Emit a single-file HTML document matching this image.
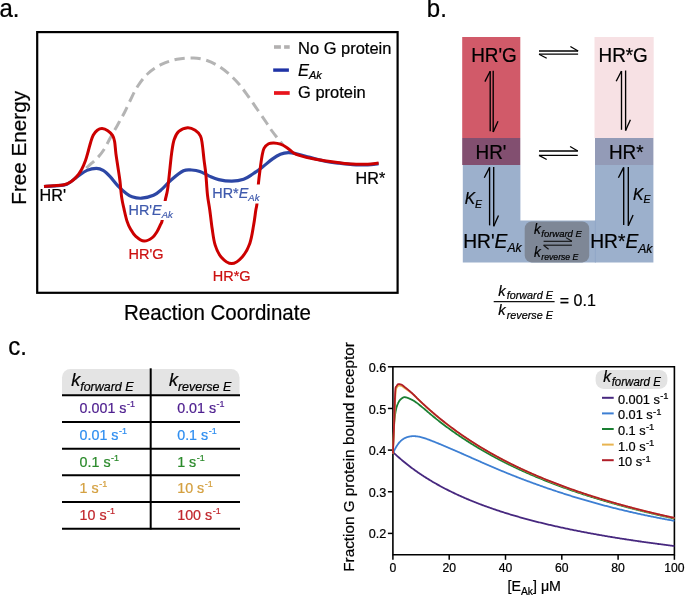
<!DOCTYPE html>
<html><head><meta charset="utf-8"><style>
html,body{margin:0;padding:0;background:#fff;}
svg{display:block;will-change:transform;}
text{font-family:"Liberation Sans", sans-serif;}
</style></head><body>
<svg width="685" height="596" viewBox="0 0 685 596" font-family='"Liberation Sans", sans-serif'>
<rect width="685" height="596" fill="#fff"/>
<text id="t0" x="-0.6" y="17.3" font-size="24" stroke="#000" stroke-width="0.22" transform="matrix(1 0 0 1.045 0 -0.778)">a.</text>
<rect x="37.2" y="32.1" width="360.4" height="260.7" fill="none" stroke="#000" stroke-width="2.2"/>
<text id="t1" transform="translate(25.5,147.8) rotate(-90)" text-anchor="middle" font-size="20.7" stroke="#000" stroke-width="0.22">Free Energy</text>
<text id="t2" x="217.4" y="319.9" text-anchor="middle" font-size="20.5" stroke="#000" stroke-width="0.22" transform="matrix(1 0 0 1.045 0 -14.395)">Reaction Coordinate</text>
<path d="M72.00,182.00 C73.23,180.80 76.73,177.38 79.40,174.80 C82.07,172.22 84.98,169.33 88.00,166.50 C91.02,163.67 94.83,160.63 97.50,157.80 C100.17,154.97 101.90,152.77 104.00,149.50 C106.10,146.23 108.27,141.53 110.10,138.20 C111.93,134.87 113.48,132.18 115.00,129.50 C116.52,126.82 117.62,124.93 119.20,122.10 C120.78,119.27 122.67,116.10 124.50,112.50 C126.33,108.90 128.03,104.83 130.20,100.50 C132.37,96.17 134.53,91.00 137.50,86.50 C140.47,82.00 143.92,77.22 148.00,73.50 C152.08,69.78 157.17,66.57 162.00,64.20 C166.83,61.83 171.73,60.33 177.00,59.30 C182.27,58.27 188.60,57.80 193.60,58.00 C198.60,58.20 202.92,59.18 207.00,60.50 C211.08,61.82 214.43,63.65 218.10,65.90 C221.77,68.15 225.50,70.93 229.00,74.00 C232.50,77.07 235.93,80.63 239.10,84.30 C242.27,87.97 244.90,91.72 248.00,96.00 C251.10,100.28 254.70,105.67 257.70,110.00 C260.70,114.33 263.62,118.50 266.00,122.00 C268.38,125.50 270.03,128.25 272.00,131.00 C273.97,133.75 275.97,136.17 277.80,138.50 C279.63,140.83 282.13,143.92 283.00,145.00" fill="none" stroke="#b4b4b4" stroke-width="3" stroke-dasharray="10.3 5.7" stroke-dashoffset="-4"/>
<path d="M44.00,186.50 C45.83,186.38 51.18,186.18 55.00,185.80 C58.82,185.42 63.13,185.77 66.90,184.20 C70.67,182.63 74.25,178.70 77.60,176.40 C80.95,174.10 83.87,171.73 87.00,170.40 C90.13,169.07 93.72,168.40 96.40,168.40 C99.08,168.40 100.85,169.07 103.10,170.40 C105.35,171.73 107.43,173.83 109.90,176.40 C112.37,178.97 115.22,183.00 117.90,185.80 C120.58,188.60 123.65,191.37 126.00,193.20 C128.35,195.03 129.38,195.97 132.00,196.80 C134.62,197.63 138.12,198.45 141.70,198.20 C145.28,197.95 150.17,196.77 153.50,195.30 C156.83,193.83 158.77,191.95 161.70,189.40 C164.63,186.85 167.47,183.10 171.10,180.00 C174.73,176.90 180.07,172.47 183.50,170.80 C186.93,169.13 188.97,169.90 191.70,170.00 C194.43,170.10 196.97,170.38 199.90,171.40 C202.83,172.42 206.17,174.73 209.30,176.10 C212.43,177.47 214.95,178.75 218.70,179.60 C222.45,180.45 227.65,181.25 231.80,181.20 C235.95,181.15 240.10,180.50 243.60,179.30 C247.10,178.10 249.73,175.98 252.80,174.00 C255.87,172.02 258.70,169.92 262.00,167.40 C265.30,164.88 269.53,161.08 272.60,158.90 C275.67,156.72 277.78,155.35 280.40,154.30 C283.02,153.25 285.67,152.70 288.30,152.60 C290.93,152.50 292.58,152.90 296.20,153.70 C299.82,154.50 304.98,156.10 310.00,157.40 C315.02,158.70 321.40,160.53 326.30,161.50 C331.20,162.47 335.02,162.68 339.40,163.20 C343.78,163.72 348.65,164.33 352.60,164.60 C356.55,164.87 360.03,164.80 363.10,164.80 C366.17,164.80 368.42,164.80 371.00,164.60 C373.58,164.40 377.33,163.77 378.60,163.60" fill="none" stroke="#2d47a5" stroke-width="3.2" stroke-linecap="butt"/>
<path d="M44.00,186.50 C45.57,186.38 50.03,186.10 53.40,185.80 C56.77,185.50 61.28,185.37 64.20,184.70 C67.12,184.03 68.88,183.07 70.90,181.80 C72.92,180.53 74.52,179.17 76.30,177.10 C78.08,175.03 80.07,172.17 81.60,169.40 C83.13,166.63 84.38,163.57 85.50,160.50 C86.62,157.43 87.45,154.00 88.30,151.00 C89.15,148.00 89.78,145.13 90.60,142.50 C91.42,139.87 92.08,137.23 93.20,135.20 C94.32,133.17 95.82,131.40 97.30,130.30 C98.78,129.20 100.35,128.53 102.10,128.60 C103.85,128.67 106.07,129.57 107.80,130.70 C109.53,131.83 111.37,133.60 112.50,135.40 C113.63,137.20 114.03,138.47 114.60,141.50 C115.17,144.53 115.35,149.35 115.90,153.60 C116.45,157.85 117.23,162.52 117.90,167.00 C118.57,171.48 119.27,175.40 119.90,180.50 C120.53,185.60 121.00,192.78 121.70,197.60 C122.40,202.42 123.22,205.48 124.10,209.40 C124.98,213.32 125.92,217.78 127.00,221.10 C128.08,224.42 129.13,226.75 130.60,229.30 C132.07,231.85 133.55,234.43 135.80,236.40 C138.05,238.37 141.35,240.90 144.10,241.10 C146.85,241.30 150.15,239.17 152.30,237.60 C154.45,236.03 155.63,233.87 157.00,231.70 C158.37,229.53 159.62,226.57 160.50,224.60 C161.38,222.63 161.52,223.90 162.30,219.90 C163.08,215.90 164.32,205.68 165.20,200.60 C166.08,195.52 166.80,194.85 167.60,189.40 C168.40,183.95 169.32,174.03 170.00,167.90 C170.68,161.77 171.02,157.30 171.70,152.60 C172.38,147.90 172.92,143.23 174.10,139.70 C175.28,136.17 176.55,133.40 178.80,131.40 C181.05,129.40 184.87,127.88 187.60,127.70 C190.33,127.52 193.05,128.90 195.20,130.30 C197.35,131.70 199.32,133.75 200.50,136.10 C201.68,138.45 201.72,140.48 202.30,144.40 C202.88,148.32 203.42,154.72 204.00,159.60 C204.58,164.48 205.22,167.78 205.80,173.70 C206.38,179.62 206.83,189.02 207.50,195.10 C208.17,201.18 209.03,204.67 209.80,210.20 C210.57,215.73 211.22,222.52 212.10,228.30 C212.98,234.08 213.60,240.13 215.10,244.90 C216.60,249.67 218.33,253.78 221.10,256.90 C223.87,260.02 228.18,263.60 231.70,263.60 C235.22,263.60 239.18,260.27 242.20,256.90 C245.22,253.53 247.90,248.67 249.80,243.40 C251.70,238.13 252.60,230.83 253.60,225.30 C254.60,219.77 255.23,213.85 255.80,210.20 C256.37,206.55 256.57,207.78 257.00,203.40 C257.43,199.02 257.88,189.57 258.40,183.90 C258.92,178.23 259.50,174.00 260.10,169.40 C260.70,164.80 261.35,159.80 262.00,156.30 C262.65,152.80 262.90,150.48 264.00,148.40 C265.10,146.32 266.95,144.72 268.60,143.80 C270.25,142.88 271.93,142.83 273.90,142.90 C275.87,142.97 278.22,143.40 280.40,144.20 C282.58,145.00 284.80,146.23 287.00,147.70 C289.20,149.17 291.42,151.68 293.60,153.00 C295.78,154.32 296.85,154.63 300.10,155.60 C303.35,156.57 308.73,157.90 313.10,158.80 C317.47,159.70 321.92,160.35 326.30,161.00 C330.68,161.65 335.02,162.18 339.40,162.70 C343.78,163.22 348.65,163.83 352.60,164.10 C356.55,164.37 360.03,164.30 363.10,164.30 C366.17,164.30 368.42,164.30 371.00,164.10 C373.58,163.90 377.33,163.27 378.60,163.10" fill="none" stroke="#cc0000" stroke-width="3" stroke-linecap="butt"/>
<line x1="274" y1="47" x2="280.9" y2="47" stroke="#b2b0b0" stroke-width="3.6"/>
<line x1="284.1" y1="47" x2="289.7" y2="47" stroke="#b2b0b0" stroke-width="3.6"/>
<line x1="273.2" y1="70.1" x2="288.9" y2="70.1" stroke="#1f33a6" stroke-width="3.4"/>
<line x1="274" y1="93" x2="289.7" y2="93" stroke="#e8141c" stroke-width="3.7"/>
<text id="t3" x="298" y="53.6" font-size="16.5" stroke="#000" stroke-width="0.22" transform="matrix(1 0 0 1.045 0 -2.412)">No G protein</text>
<text id="t4" x="298" y="75.9" font-size="16.5" font-style="italic" stroke="#000" stroke-width="0.22" transform="matrix(1 0 0 1.045 0 -3.415)">E<tspan font-size="11" dy="3.2">Ak</tspan></text>
<text id="t5" x="298" y="98.3" font-size="16.5" stroke="#000" stroke-width="0.22" transform="matrix(1 0 0 1.045 0 -4.423)">G protein</text>
<text id="t6" x="39.6" y="201.5" font-size="16.2" stroke="#000" stroke-width="0.22" transform="matrix(1 0 0 1.045 0 -9.067)">HR'</text>
<text id="t7" x="355.6" y="183.6" font-size="16.2" stroke="#000" stroke-width="0.22" transform="matrix(1 0 0 1.045 0 -8.262)">HR*</text>
<rect x="128" y="201" width="45" height="19" fill="#fff"/>
<text id="t8" x="128.5" y="214.6" font-size="14.4" fill="#3f5aad" stroke="#3f5aad" stroke-width="0.22" transform="matrix(1 0 0 1.045 0 -9.657)">HR'<tspan font-style="italic">E<tspan font-size="9.5" dy="3">Ak</tspan></tspan></text>
<text id="t9" x="128.5" y="259.3" font-size="14.5" fill="#cc1111" stroke="#cc1111" stroke-width="0.22" transform="matrix(1 0 0 1.045 0 -11.668)">HR'G</text>
<rect x="212" y="184.5" width="48" height="19" fill="#fff"/>
<text id="t10" x="212.3" y="197.8" font-size="14.4" fill="#3f5aad" stroke="#3f5aad" stroke-width="0.22" transform="matrix(1 0 0 1.045 0 -8.901)">HR*<tspan font-style="italic">E<tspan font-size="9.5" dy="3">Ak</tspan></tspan></text>
<text id="t11" x="212.8" y="281.5" font-size="14.5" fill="#cc1111" stroke="#cc1111" stroke-width="0.22" transform="matrix(1 0 0 1.045 0 -12.667)">HR*G</text>
<text id="t12" x="426.8" y="17.4" font-size="24" stroke="#000" stroke-width="0.22" transform="matrix(1 0 0 1.045 0 -0.783)">b.</text>
<rect x="462.2" y="37" width="58.1" height="101" fill="#d15a69"/>
<rect x="462.2" y="138" width="58.1" height="27" fill="#824f70"/>
<path d="M462.8,165 H520.4 V220.4 H595 V165 H653.4 V262.6 H462.8 Z" fill="#9cb0cc"/>
<rect x="594.5" y="37" width="59.2" height="101" fill="#f7e1e4"/>
<rect x="595" y="138" width="58.4" height="27" fill="#939bb7"/>
<line x1="595.4" y1="220.4" x2="595.4" y2="262.6" stroke="#8ea5c6" stroke-width="0.8"/>
<rect x="524.7" y="221.5" width="64.5" height="40.9" rx="7" fill="#7e8796"/>
<text id="t13" x="471.2" y="61.8" font-size="18.9" stroke="#000" stroke-width="0.22" transform="matrix(1 0 0 1.045 0 -2.781)">HR'G</text>
<text id="t14" x="598.5" y="61.8" font-size="18.9" stroke="#000" stroke-width="0.22" transform="matrix(1 0 0 1.045 0 -2.781)">HR*G</text>
<text id="t15" x="475.5" y="159.1" font-size="18.9" stroke="#000" stroke-width="0.22" transform="matrix(1 0 0 1.045 0 -7.159)">HR'</text>
<text id="t16" x="608.9" y="159.1" font-size="18.9" stroke="#000" stroke-width="0.22" transform="matrix(1 0 0 1.045 0 -7.159)">HR*</text>
<text id="t17" x="463.2" y="248.3" font-size="19.2" stroke="#000" stroke-width="0.22" transform="matrix(1 0 0 1.045 0 -11.173)">HR'<tspan font-style="italic">E<tspan font-size="12.2" dy="4">Ak</tspan></tspan></text>
<text id="t18" x="590.2" y="248.5" font-size="19.2" stroke="#000" stroke-width="0.22" transform="matrix(1 0 0 1.045 0 -11.182)">HR*<tspan font-style="italic">E<tspan font-size="12.2" dy="4">Ak</tspan></tspan></text>
<text id="t19" x="464.7" y="203.6" font-size="15.6" font-style="italic" stroke="#000" stroke-width="0.22" transform="matrix(1 0 0 1.045 0 -9.162)">K<tspan font-size="10.5" dy="4">E</tspan></text>
<text id="t20" x="633.1" y="199.8" font-size="15.6" font-style="italic" stroke="#000" stroke-width="0.22" transform="matrix(1 0 0 1.045 0 -8.991)">K<tspan font-size="10.5" dy="3.3">E</tspan></text>
<text id="t21" x="533.9" y="233.7" font-size="13.5" font-style="italic" stroke="#000" stroke-width="0.22" transform="matrix(1 0 0 1.045 0 -10.516)">k<tspan font-size="9.5" dx="0.6" dy="3">forward E</tspan></text>
<text id="t22" x="533.9" y="257.0" font-size="13.5" font-style="italic" stroke="#000" stroke-width="0.22" transform="matrix(1 0 0 1.045 0 -11.565)">k<tspan font-size="8.7" dx="0.6" dy="2.6">reverse E</tspan></text>
<g stroke="#000" stroke-width="1.3" fill="none" stroke-linecap="butt"><line x1="539" y1="51" x2="578.1" y2="51"/><line x1="570.4" y1="46.5" x2="578.1" y2="51"/><line x1="539" y1="54.2" x2="578.1" y2="54.2"/><line x1="539" y1="54.2" x2="546.7" y2="58.300000000000004"/></g>
<g stroke="#000" stroke-width="1.3" fill="none" stroke-linecap="butt"><line x1="539" y1="151" x2="577.8" y2="151"/><line x1="570.0999999999999" y1="146.5" x2="577.8" y2="151"/><line x1="539" y1="155.4" x2="577.8" y2="155.4"/><line x1="539" y1="155.4" x2="546.7" y2="159.5"/></g>
<g stroke="#000" stroke-width="1.35" fill="none"><line x1="490.2" y1="71.3" x2="490.2" y2="131.2"/><line x1="484.9" y1="81.6" x2="490.2" y2="71.3"/><line x1="493.2" y1="70.8" x2="493.2" y2="132.0"/><line x1="498.0" y1="121.2" x2="493.2" y2="132.0"/></g>
<g stroke="#000" stroke-width="1.35" fill="none"><line x1="489.6" y1="167.4" x2="489.6" y2="225.4"/><line x1="484.3" y1="177.70000000000002" x2="489.6" y2="167.4"/><line x1="493.7" y1="166.9" x2="493.7" y2="226.20000000000002"/><line x1="498.5" y1="215.4" x2="493.7" y2="226.20000000000002"/></g>
<g stroke="#000" stroke-width="1.35" fill="none"><line x1="621.5" y1="71" x2="621.5" y2="129.8"/><line x1="616.2" y1="81.3" x2="621.5" y2="71"/><line x1="625.6" y1="70.5" x2="625.6" y2="130.60000000000002"/><line x1="630.4" y1="119.80000000000003" x2="625.6" y2="130.60000000000002"/></g>
<g stroke="#000" stroke-width="1.35" fill="none"><line x1="623.7" y1="167.4" x2="623.7" y2="225.0"/><line x1="618.4000000000001" y1="177.70000000000002" x2="623.7" y2="167.4"/><line x1="628.3" y1="166.9" x2="628.3" y2="225.8"/><line x1="633.0999999999999" y1="215.0" x2="628.3" y2="225.8"/></g>
<g stroke="#111" stroke-width="1.1" fill="none"><line x1="543.6" y1="241.3" x2="571.9" y2="241.3"/><line x1="566" y1="237.6" x2="571.9" y2="241.3"/><line x1="543.6" y1="245.2" x2="571.9" y2="245.2"/><line x1="543.6" y1="245.2" x2="548.6" y2="249.2"/></g>
<text id="t23" x="498.2" y="295.6" font-size="14.7" font-style="italic" stroke="#000" stroke-width="0.22" transform="matrix(1 0 0 1.045 0 -13.302)">k<tspan font-size="10.8" dx="1.2" dy="3.1">forward E</tspan></text>
<line x1="493.7" y1="301.6" x2="554.6" y2="301.6" stroke="#111" stroke-width="1.2"/>
<text id="t24" x="498.2" y="315.2" font-size="14.7" font-style="italic" stroke="#000" stroke-width="0.22" transform="matrix(1 0 0 1.045 0 -14.184)">k<tspan font-size="10.8" dx="1.2" dy="3.3">reverse E</tspan></text>
<text id="t25" x="559.8" y="306.3" font-size="16" stroke="#000" stroke-width="0.22" transform="matrix(1 0 0 1.045 0 -13.783)">= 0.1</text>
<text id="t26" x="8.2" y="355.5" font-size="24" stroke="#000" stroke-width="0.22" transform="matrix(1 0 0 1.045 0 -15.997)">c.</text>
<path d="M62,395 V377.4 A8.5,8.5 0 0 1 70.5,368.9 H231 A8.5,8.5 0 0 1 239.5,377.4 V395 Z" fill="#e4e4e4"/>
<line x1="62" y1="395.2" x2="240" y2="395.2" stroke="#000" stroke-width="2"/>
<line x1="62" y1="421.9" x2="240" y2="421.9" stroke="#000" stroke-width="2"/>
<line x1="62" y1="448.8" x2="240" y2="448.8" stroke="#000" stroke-width="2"/>
<line x1="62" y1="475.2" x2="240" y2="475.2" stroke="#000" stroke-width="2"/>
<line x1="62" y1="502.1" x2="240" y2="502.1" stroke="#000" stroke-width="2"/>
<line x1="62" y1="528.7" x2="240" y2="528.7" stroke="#000" stroke-width="2"/>
<line x1="150.7" y1="368.3" x2="150.7" y2="529.5" stroke="#000" stroke-width="2"/>
<text id="t27" x="71.2" y="386.2" font-size="18" font-style="italic" stroke="#000" stroke-width="0.22" transform="matrix(1 0 0 1.045 0 -17.379)">k<tspan font-size="12.5" dy="4.2">forward E</tspan></text>
<text id="t28" x="168.9" y="386.2" font-size="18" font-style="italic" stroke="#000" stroke-width="0.22" transform="matrix(1 0 0 1.045 0 -17.379)">k<tspan font-size="12.5" dy="4.2">reverse E</tspan></text>
<text id="t29" x="79.6" y="412.9" font-size="14.3" fill="#4e1f8f" stroke="#4e1f8f" stroke-width="0.22" transform="matrix(1 0 0 1.045 0 -18.580)">0.001 s<tspan font-size="9" dx="0.5" dy="-5.6">-1</tspan></text>
<text id="t30" x="177.2" y="412.9" font-size="14.3" fill="#4e1f8f" stroke="#4e1f8f" stroke-width="0.22" transform="matrix(1 0 0 1.045 0 -18.580)">0.01 s<tspan font-size="9" dx="0.5" dy="-5.6">-1</tspan></text>
<text id="t31" x="79.6" y="439.79999999999995" font-size="14.3" fill="#2f8ef0" stroke="#2f8ef0" stroke-width="0.22" transform="matrix(1 0 0 1.045 0 -19.791)">0.01 s<tspan font-size="9" dx="0.5" dy="-5.6">-1</tspan></text>
<text id="t32" x="177.2" y="439.79999999999995" font-size="14.3" fill="#2f8ef0" stroke="#2f8ef0" stroke-width="0.22" transform="matrix(1 0 0 1.045 0 -19.791)">0.1 s<tspan font-size="9" dx="0.5" dy="-5.6">-1</tspan></text>
<text id="t33" x="79.6" y="466.7" font-size="14.3" fill="#2b8a2b" stroke="#2b8a2b" stroke-width="0.22" transform="matrix(1 0 0 1.045 0 -21.001)">0.1 s<tspan font-size="9" dx="0.5" dy="-5.6">-1</tspan></text>
<text id="t34" x="177.2" y="466.7" font-size="14.3" fill="#2b8a2b" stroke="#2b8a2b" stroke-width="0.22" transform="matrix(1 0 0 1.045 0 -21.001)">1 s<tspan font-size="9" dx="0.5" dy="-5.6">-1</tspan></text>
<text id="t35" x="79.6" y="493.29999999999995" font-size="14.3" fill="#d4a040" stroke="#d4a040" stroke-width="0.22" transform="matrix(1 0 0 1.045 0 -22.198)">1 s<tspan font-size="9" dx="0.5" dy="-5.6">-1</tspan></text>
<text id="t36" x="177.2" y="493.29999999999995" font-size="14.3" fill="#d4a040" stroke="#d4a040" stroke-width="0.22" transform="matrix(1 0 0 1.045 0 -22.198)">10 s<tspan font-size="9" dx="0.5" dy="-5.6">-1</tspan></text>
<text id="t37" x="79.6" y="519.9" font-size="14.3" fill="#c1272d" stroke="#c1272d" stroke-width="0.22" transform="matrix(1 0 0 1.045 0 -23.395)">10 s<tspan font-size="9" dx="0.5" dy="-5.6">-1</tspan></text>
<text id="t38" x="177.2" y="519.9" font-size="14.3" fill="#c1272d" stroke="#c1272d" stroke-width="0.22" transform="matrix(1 0 0 1.045 0 -23.395)">100 s<tspan font-size="9" dx="0.5" dy="-5.6">-1</tspan></text>
<path d="M392.9,366.8 H674.4 V554.8 H392.9 Z" fill="none" stroke="#000" stroke-width="1.6"/>
<line x1="387.9" y1="366.80" x2="392.9" y2="366.80" stroke="#000" stroke-width="1.5"/>
<text id="t39" x="386.29999999999995" y="371.90" font-size="12.6" text-anchor="end" stroke="#000" stroke-width="0.22" transform="matrix(1 0 0 1.045 0 -16.735)">0.6</text>
<line x1="387.9" y1="408.45" x2="392.9" y2="408.45" stroke="#000" stroke-width="1.5"/>
<text id="t40" x="386.29999999999995" y="413.55" font-size="12.6" text-anchor="end" stroke="#000" stroke-width="0.22" transform="matrix(1 0 0 1.045 0 -18.610)">0.5</text>
<line x1="387.9" y1="450.10" x2="392.9" y2="450.10" stroke="#000" stroke-width="1.5"/>
<text id="t41" x="386.29999999999995" y="455.20" font-size="12.6" text-anchor="end" stroke="#000" stroke-width="0.22" transform="matrix(1 0 0 1.045 0 -20.484)">0.4</text>
<line x1="387.9" y1="491.75" x2="392.9" y2="491.75" stroke="#000" stroke-width="1.5"/>
<text id="t42" x="386.29999999999995" y="496.85" font-size="12.6" text-anchor="end" stroke="#000" stroke-width="0.22" transform="matrix(1 0 0 1.045 0 -22.358)">0.3</text>
<line x1="387.9" y1="533.40" x2="392.9" y2="533.40" stroke="#000" stroke-width="1.5"/>
<text id="t43" x="386.29999999999995" y="538.50" font-size="12.6" text-anchor="end" stroke="#000" stroke-width="0.22" transform="matrix(1 0 0 1.045 0 -24.232)">0.2</text>
<line x1="392.90" y1="554.8" x2="392.90" y2="559.8" stroke="#000" stroke-width="1.5"/>
<text id="t44" x="392.90" y="572.5" font-size="12.2" text-anchor="middle" stroke="#000" stroke-width="0.22" transform="matrix(1 0 0 1.045 0 -25.762)">0</text>
<line x1="449.20" y1="554.8" x2="449.20" y2="559.8" stroke="#000" stroke-width="1.5"/>
<text id="t45" x="449.20" y="572.5" font-size="12.2" text-anchor="middle" stroke="#000" stroke-width="0.22" transform="matrix(1 0 0 1.045 0 -25.762)">20</text>
<line x1="505.50" y1="554.8" x2="505.50" y2="559.8" stroke="#000" stroke-width="1.5"/>
<text id="t46" x="505.50" y="572.5" font-size="12.2" text-anchor="middle" stroke="#000" stroke-width="0.22" transform="matrix(1 0 0 1.045 0 -25.762)">40</text>
<line x1="561.80" y1="554.8" x2="561.80" y2="559.8" stroke="#000" stroke-width="1.5"/>
<text id="t47" x="561.80" y="572.5" font-size="12.2" text-anchor="middle" stroke="#000" stroke-width="0.22" transform="matrix(1 0 0 1.045 0 -25.762)">60</text>
<line x1="618.10" y1="554.8" x2="618.10" y2="559.8" stroke="#000" stroke-width="1.5"/>
<text id="t48" x="618.10" y="572.5" font-size="12.2" text-anchor="middle" stroke="#000" stroke-width="0.22" transform="matrix(1 0 0 1.045 0 -25.762)">80</text>
<line x1="674.40" y1="554.8" x2="674.40" y2="559.8" stroke="#000" stroke-width="1.5"/>
<text id="t49" x="674.40" y="572.5" font-size="12.2" text-anchor="middle" stroke="#000" stroke-width="0.22" transform="matrix(1 0 0 1.045 0 -25.762)">100</text>
<text id="t50" x="507.6" y="591.3" font-size="14.2" stroke="#000" stroke-width="0.22" transform="matrix(1 0 0 1.045 0 -26.608)">[E<tspan font-size="10.3" dy="3.6">Ak</tspan><tspan dy="-3.6">] μM</tspan></text>
<text id="t51" transform="translate(354,457) rotate(-90)" text-anchor="middle" font-size="15.3" stroke="#000" stroke-width="0.22">Fraction G protein bound receptor</text>
<path d="M392.90,452.06 L393.84,452.95 L394.78,453.83 L395.72,454.69 L396.67,455.55 L397.61,456.39 L398.55,457.23 L399.49,458.05 L400.43,458.87 L401.37,459.67 L402.31,460.47 L403.26,461.25 L404.20,462.03 L405.14,462.79 L406.08,463.55 L407.02,464.30 L407.96,465.04 L408.91,465.77 L409.85,466.49 L410.79,467.20 L411.73,467.91 L412.67,468.61 L413.61,469.30 L414.55,469.98 L415.50,470.66 L416.44,471.32 L417.38,471.98 L418.32,472.64 L419.26,473.28 L420.20,473.92 L421.14,474.55 L422.09,475.18 L423.03,475.80 L423.97,476.41 L424.91,477.02 L425.85,477.62 L426.79,478.21 L427.73,478.80 L428.68,479.38 L429.62,479.95 L430.56,480.52 L431.50,481.09 L432.44,481.65 L433.38,482.20 L434.32,482.75 L435.27,483.29 L436.21,483.83 L437.15,484.36 L438.09,484.89 L439.03,485.41 L439.97,485.93 L440.92,486.44 L441.86,486.94 L442.80,487.45 L443.74,487.95 L444.68,488.44 L445.62,488.93 L446.56,489.41 L447.51,489.89 L448.45,490.37 L449.39,490.84 L450.33,491.30 L451.27,491.77 L452.21,492.23 L453.15,492.68 L454.10,493.13 L455.04,493.58 L455.98,494.02 L456.92,494.46 L457.86,494.90 L458.80,495.33 L459.74,495.76 L460.69,496.18 L461.63,496.60 L462.57,497.02 L463.51,497.43 L464.45,497.84 L465.39,498.25 L466.33,498.65 L467.28,499.05 L468.22,499.45 L469.16,499.85 L470.10,500.24 L471.04,500.62 L471.98,501.01 L472.93,501.39 L473.87,501.77 L474.81,502.14 L475.75,502.52 L476.69,502.89 L477.63,503.25 L478.57,503.62 L479.52,503.98 L480.46,504.34 L481.40,504.69 L482.34,505.04 L483.28,505.40 L484.22,505.74 L485.16,506.09 L486.11,506.43 L487.05,506.77 L487.99,507.11 L488.93,507.44 L489.87,507.77 L490.81,508.10 L491.75,508.43 L492.70,508.76 L493.64,509.08 L494.58,509.40 L495.52,509.72 L496.46,510.04 L497.40,510.35 L498.34,510.66 L499.29,510.97 L500.23,511.28 L501.17,511.58 L502.11,511.89 L503.05,512.19 L503.99,512.49 L504.94,512.78 L505.88,513.08 L506.82,513.37 L507.76,513.66 L508.70,513.95 L509.64,514.24 L510.58,514.52 L511.53,514.80 L512.47,515.09 L513.41,515.37 L514.35,515.64 L515.29,515.92 L516.23,516.19 L517.17,516.46 L518.12,516.73 L519.06,517.00 L520.00,517.27 L520.94,517.53 L521.88,517.80 L522.82,518.06 L523.76,518.32 L524.71,518.58 L525.65,518.84 L526.59,519.09 L527.53,519.34 L528.47,519.60 L529.41,519.85 L530.35,520.10 L531.30,520.34 L532.24,520.59 L533.18,520.83 L534.12,521.08 L535.06,521.32 L536.00,521.56 L536.95,521.80 L537.89,522.03 L538.83,522.27 L539.77,522.50 L540.71,522.73 L541.65,522.97 L542.59,523.20 L543.54,523.43 L544.48,523.65 L545.42,523.88 L546.36,524.10 L547.30,524.33 L548.24,524.55 L549.18,524.77 L550.13,524.99 L551.07,525.21 L552.01,525.42 L552.95,525.64 L553.89,525.85 L554.83,526.07 L555.77,526.28 L556.72,526.49 L557.66,526.70 L558.60,526.91 L559.54,527.12 L560.48,527.32 L561.42,527.53 L562.36,527.73 L563.31,527.94 L564.25,528.14 L565.19,528.34 L566.13,528.54 L567.07,528.74 L568.01,528.93 L568.96,529.13 L569.90,529.33 L570.84,529.52 L571.78,529.71 L572.72,529.91 L573.66,530.10 L574.60,530.29 L575.55,530.48 L576.49,530.66 L577.43,530.85 L578.37,531.04 L579.31,531.22 L580.25,531.41 L581.19,531.59 L582.14,531.77 L583.08,531.95 L584.02,532.14 L584.96,532.31 L585.90,532.49 L586.84,532.67 L587.78,532.85 L588.73,533.02 L589.67,533.20 L590.61,533.37 L591.55,533.55 L592.49,533.72 L593.43,533.89 L594.37,534.06 L595.32,534.23 L596.26,534.40 L597.20,534.57 L598.14,534.74 L599.08,534.90 L600.02,535.07 L600.97,535.23 L601.91,535.40 L602.85,535.56 L603.79,535.72 L604.73,535.89 L605.67,536.05 L606.61,536.21 L607.56,536.37 L608.50,536.53 L609.44,536.68 L610.38,536.84 L611.32,537.00 L612.26,537.15 L613.20,537.31 L614.15,537.46 L615.09,537.62 L616.03,537.77 L616.97,537.92 L617.91,538.07 L618.85,538.22 L619.79,538.37 L620.74,538.52 L621.68,538.67 L622.62,538.82 L623.56,538.97 L624.50,539.11 L625.44,539.26 L626.38,539.40 L627.33,539.55 L628.27,539.69 L629.21,539.84 L630.15,539.98 L631.09,540.12 L632.03,540.26 L632.98,540.40 L633.92,540.54 L634.86,540.68 L635.80,540.82 L636.74,540.96 L637.68,541.10 L638.62,541.24 L639.57,541.37 L640.51,541.51 L641.45,541.64 L642.39,541.78 L643.33,541.91 L644.27,542.05 L645.21,542.18 L646.16,542.31 L647.10,542.44 L648.04,542.58 L648.98,542.71 L649.92,542.84 L650.86,542.97 L651.80,543.10 L652.75,543.22 L653.69,543.35 L654.63,543.48 L655.57,543.61 L656.51,543.73 L657.45,543.86 L658.39,543.99 L659.34,544.11 L660.28,544.23 L661.22,544.36 L662.16,544.48 L663.10,544.61 L664.04,544.73 L664.99,544.85 L665.93,544.97 L666.87,545.09 L667.81,545.21 L668.75,545.33 L669.69,545.45 L670.63,545.57 L671.58,545.69 L672.52,545.81 L673.46,545.92 L674.40,546.04" fill="none" stroke="#47287f" stroke-width="1.8" stroke-linejoin="round"/>
<path d="M392.90,453.55 L393.10,453.08 L393.30,452.61 L393.51,452.16 L393.71,451.71 L393.91,451.27 L394.11,450.84 L394.31,450.42 L394.52,450.01 L394.72,449.61 L394.92,449.21 L395.12,448.83 L395.32,448.45 L395.53,448.08 L395.73,447.72 L395.93,447.36 L396.13,447.01 L396.33,446.67 L396.54,446.34 L396.74,446.02 L396.94,445.70 L397.14,445.39 L397.34,445.09 L397.55,444.80 L397.75,444.51 L397.95,444.23 L398.15,443.95 L398.35,443.68 L398.56,443.42 L398.76,443.17 L398.96,442.92 L399.16,442.68 L399.36,442.44 L399.57,442.21 L399.77,441.99 L399.97,441.77 L400.17,441.56 L400.37,441.36 L400.58,441.16 L400.78,440.96 L400.98,440.77 L401.18,440.59 L401.38,440.41 L401.59,440.24 L401.79,440.07 L401.99,439.91 L402.19,439.75 L402.39,439.60 L402.60,439.45 L402.80,439.31 L403.00,439.17 L403.20,439.03 L403.41,438.90 L403.61,438.78 L403.81,438.65 L404.01,438.54 L404.21,438.42 L404.42,438.31 L404.62,438.21 L404.82,438.10 L405.02,438.00 L405.22,437.91 L405.43,437.82 L405.63,437.73 L405.83,437.64 L406.03,437.56 L406.23,437.48 L406.44,437.40 L406.64,437.33 L406.84,437.26 L407.04,437.19 L407.24,437.13 L407.45,437.06 L407.65,437.00 L407.85,436.94 L408.05,436.89 L408.25,436.83 L408.46,436.78 L408.66,436.73 L408.86,436.68 L409.06,436.64 L409.26,436.60 L409.47,436.56 L409.67,436.52 L409.87,436.48 L410.07,436.45 L410.27,436.41 L410.48,436.38 L410.68,436.35 L410.88,436.33 L411.08,436.30 L411.28,436.28 L411.49,436.26 L411.69,436.24 L411.89,436.22 L412.09,436.21 L412.29,436.20 L412.50,436.19 L412.70,436.18 L412.90,436.17 L413.77,436.16 L414.65,436.18 L415.52,436.23 L416.40,436.31 L417.27,436.41 L418.15,436.55 L419.02,436.71 L419.90,436.89 L420.77,437.09 L421.65,437.31 L422.52,437.55 L423.39,437.81 L424.27,438.08 L425.14,438.37 L426.02,438.67 L426.89,438.98 L427.77,439.30 L428.64,439.63 L429.52,439.96 L430.39,440.30 L431.27,440.64 L432.14,440.99 L433.02,441.33 L433.89,441.68 L434.76,442.03 L435.64,442.38 L436.51,442.73 L437.39,443.09 L438.26,443.45 L439.14,443.80 L440.01,444.16 L440.89,444.53 L441.76,444.89 L442.64,445.25 L443.51,445.62 L444.38,445.99 L445.26,446.35 L446.13,446.72 L447.01,447.10 L447.88,447.47 L448.76,447.84 L449.63,448.22 L450.51,448.59 L451.38,448.97 L452.26,449.35 L453.13,449.72 L454.01,450.10 L454.88,450.48 L455.75,450.86 L456.63,451.25 L457.50,451.63 L458.38,452.01 L459.25,452.40 L460.13,452.78 L461.00,453.17 L461.88,453.55 L462.75,453.94 L463.63,454.32 L464.50,454.71 L465.37,455.10 L466.25,455.48 L467.12,455.87 L468.00,456.26 L468.87,456.65 L469.75,457.04 L470.62,457.42 L471.50,457.81 L472.37,458.20 L473.25,458.59 L474.12,458.98 L475.00,459.36 L475.87,459.75 L476.74,460.14 L477.62,460.53 L478.49,460.91 L479.37,461.30 L480.24,461.68 L481.12,462.07 L481.99,462.45 L482.87,462.84 L483.74,463.22 L484.62,463.61 L485.49,463.99 L486.36,464.37 L487.24,464.75 L488.11,465.13 L488.99,465.51 L489.86,465.89 L490.74,466.27 L491.61,466.64 L492.49,467.02 L493.36,467.39 L494.24,467.76 L495.11,468.14 L495.99,468.51 L496.86,468.88 L497.73,469.24 L498.61,469.61 L499.48,469.98 L500.36,470.34 L501.23,470.71 L502.11,471.07 L502.98,471.43 L503.86,471.79 L504.73,472.15 L505.61,472.50 L506.48,472.86 L507.35,473.22 L508.23,473.57 L509.10,473.92 L509.98,474.27 L510.85,474.62 L511.73,474.97 L512.60,475.32 L513.48,475.67 L514.35,476.01 L515.23,476.36 L516.10,476.70 L516.98,477.04 L517.85,477.38 L518.72,477.72 L519.60,478.06 L520.47,478.40 L521.35,478.74 L522.22,479.07 L523.10,479.40 L523.97,479.74 L524.85,480.07 L525.72,480.40 L526.60,480.73 L527.47,481.06 L528.34,481.38 L529.22,481.71 L530.09,482.03 L530.97,482.36 L531.84,482.68 L532.72,483.00 L533.59,483.32 L534.47,483.64 L535.34,483.95 L536.22,484.27 L537.09,484.59 L537.97,484.90 L538.84,485.21 L539.71,485.52 L540.59,485.84 L541.46,486.14 L542.34,486.45 L543.21,486.76 L544.09,487.07 L544.96,487.37 L545.84,487.68 L546.71,487.98 L547.59,488.28 L548.46,488.58 L549.33,488.88 L550.21,489.18 L551.08,489.47 L551.96,489.77 L552.83,490.07 L553.71,490.36 L554.58,490.65 L555.46,490.94 L556.33,491.23 L557.21,491.52 L558.08,491.81 L558.96,492.10 L559.83,492.38 L560.70,492.67 L561.58,492.95 L562.45,493.23 L563.33,493.52 L564.20,493.80 L565.08,494.08 L565.95,494.35 L566.83,494.63 L567.70,494.91 L568.58,495.18 L569.45,495.46 L570.32,495.73 L571.20,496.00 L572.07,496.27 L572.95,496.54 L573.82,496.81 L574.70,497.08 L575.57,497.34 L576.45,497.61 L577.32,497.87 L578.20,498.13 L579.07,498.40 L579.95,498.66 L580.82,498.92 L581.69,499.18 L582.57,499.43 L583.44,499.69 L584.32,499.95 L585.19,500.20 L586.07,500.45 L586.94,500.71 L587.82,500.96 L588.69,501.21 L589.57,501.46 L590.44,501.70 L591.31,501.95 L592.19,502.20 L593.06,502.44 L593.94,502.69 L594.81,502.93 L595.69,503.17 L596.56,503.41 L597.44,503.65 L598.31,503.89 L599.19,504.13 L600.06,504.36 L600.94,504.60 L601.81,504.83 L602.68,505.07 L603.56,505.30 L604.43,505.53 L605.31,505.76 L606.18,505.99 L607.06,506.22 L607.93,506.45 L608.81,506.67 L609.68,506.90 L610.56,507.12 L611.43,507.35 L612.30,507.57 L613.18,507.79 L614.05,508.01 L614.93,508.23 L615.80,508.45 L616.68,508.66 L617.55,508.88 L618.43,509.10 L619.30,509.31 L620.18,509.52 L621.05,509.73 L621.93,509.95 L622.80,510.16 L623.67,510.36 L624.55,510.57 L625.42,510.78 L626.30,510.99 L627.17,511.19 L628.05,511.40 L628.92,511.60 L629.80,511.80 L630.67,512.00 L631.55,512.20 L632.42,512.40 L633.29,512.60 L634.17,512.80 L635.04,512.99 L635.92,513.19 L636.79,513.38 L637.67,513.58 L638.54,513.77 L639.42,513.96 L640.29,514.15 L641.17,514.34 L642.04,514.53 L642.92,514.72 L643.79,514.90 L644.66,515.09 L645.54,515.27 L646.41,515.46 L647.29,515.64 L648.16,515.82 L649.04,516.00 L649.91,516.18 L650.79,516.36 L651.66,516.54 L652.54,516.71 L653.41,516.89 L654.28,517.07 L655.16,517.24 L656.03,517.41 L656.91,517.59 L657.78,517.76 L658.66,517.93 L659.53,518.10 L660.41,518.26 L661.28,518.43 L662.16,518.60 L663.03,518.76 L663.91,518.93 L664.78,519.09 L665.65,519.26 L666.53,519.42 L667.40,519.58 L668.28,519.74 L669.15,519.90 L670.03,520.06 L670.90,520.21 L671.78,520.37 L672.65,520.53 L673.53,520.68 L674.40,520.83" fill="none" stroke="#3d7fd3" stroke-width="1.8" stroke-linejoin="round"/>
<path d="M392.90,453.60 L393.00,450.01 L393.10,446.51 L393.20,443.20 L393.30,440.15 L393.40,437.43 L393.50,435.14 L393.60,433.11 L393.70,431.17 L393.80,429.33 L393.91,427.59 L394.01,425.95 L394.11,424.41 L394.21,422.97 L394.31,421.65 L394.41,420.44 L394.51,419.35 L394.61,418.38 L394.71,417.53 L394.81,416.75 L394.91,415.99 L395.01,415.27 L395.11,414.57 L395.21,413.90 L395.31,413.26 L395.41,412.65 L395.51,412.06 L395.61,411.49 L395.71,410.95 L395.81,410.43 L395.92,409.94 L396.02,409.47 L396.12,409.02 L396.22,408.59 L396.32,408.18 L396.42,407.79 L396.52,407.42 L396.62,407.07 L396.72,406.74 L396.82,406.42 L396.92,406.13 L397.02,405.84 L397.12,405.57 L397.22,405.30 L397.32,405.04 L397.42,404.78 L397.52,404.53 L397.62,404.28 L397.72,404.04 L397.82,403.81 L397.93,403.58 L398.03,403.35 L398.13,403.13 L398.23,402.92 L398.33,402.71 L398.43,402.50 L398.53,402.31 L398.63,402.11 L398.73,401.93 L398.83,401.74 L398.93,401.57 L399.03,401.40 L399.13,401.23 L399.23,401.07 L399.33,400.91 L399.43,400.76 L399.53,400.62 L399.63,400.48 L399.73,400.34 L399.83,400.21 L399.94,400.09 L400.04,399.97 L400.14,399.86 L400.24,399.75 L400.34,399.65 L400.44,399.55 L400.54,399.45 L400.64,399.37 L400.74,399.28 L400.84,399.19 L400.94,399.11 L401.04,399.02 L401.14,398.94 L401.24,398.85 L401.34,398.77 L401.44,398.69 L401.54,398.61 L401.64,398.53 L401.74,398.45 L401.84,398.37 L401.95,398.30 L402.05,398.22 L402.15,398.15 L402.25,398.08 L402.35,398.01 L402.45,397.94 L402.55,397.88 L402.65,397.82 L402.75,397.76 L402.85,397.70 L402.95,397.64 L403.05,397.59 L403.15,397.54 L403.25,397.50 L403.35,397.45 L403.45,397.41 L403.55,397.38 L403.65,397.34 L403.75,397.31 L403.85,397.28 L403.96,397.26 L404.06,397.24 L404.16,397.22 L404.26,397.21 L404.36,397.20 L404.46,397.20 L404.56,397.20 L404.66,397.20 L404.76,397.21 L404.86,397.21 L404.96,397.22 L405.06,397.23 L405.16,397.24 L405.26,397.25 L405.36,397.26 L405.46,397.27 L405.56,397.29 L405.66,397.31 L405.76,397.33 L405.86,397.35 L405.97,397.37 L406.07,397.39 L406.17,397.41 L406.27,397.44 L406.37,397.46 L406.47,397.49 L406.57,397.52 L406.67,397.55 L406.77,397.58 L406.87,397.61 L406.97,397.64 L407.07,397.67 L407.17,397.71 L407.27,397.74 L407.37,397.78 L407.47,397.81 L407.57,397.85 L407.67,397.89 L407.77,397.93 L407.87,397.97 L407.98,398.01 L408.08,398.05 L408.18,398.09 L408.28,398.13 L408.38,398.17 L408.48,398.22 L408.58,398.26 L408.68,398.30 L408.78,398.35 L408.88,398.39 L408.98,398.44 L409.08,398.48 L409.18,398.53 L409.28,398.57 L409.38,398.62 L409.48,398.67 L409.58,398.71 L409.68,398.76 L409.78,398.80 L409.88,398.85 L409.99,398.90 L410.09,398.94 L410.19,398.99 L410.29,399.03 L410.39,399.08 L410.49,399.13 L410.59,399.17 L410.69,399.22 L410.79,399.26 L410.89,399.31 L410.99,399.35 L411.09,399.40 L411.19,399.44 L411.29,399.49 L411.39,399.53 L411.49,399.58 L411.59,399.62 L411.69,399.67 L411.79,399.72 L411.89,399.77 L412.00,399.82 L412.10,399.87 L412.20,399.92 L412.30,399.97 L412.40,400.03 L412.50,400.08 L412.60,400.13 L412.70,400.19 L412.80,400.24 L412.90,400.30 L413.56,400.68 L414.21,401.08 L414.87,401.51 L415.52,401.95 L416.18,402.42 L416.83,402.90 L417.49,403.39 L418.14,403.90 L418.80,404.41 L419.45,404.94 L420.11,405.47 L420.76,406.00 L421.42,406.54 L422.08,407.08 L422.73,407.61 L423.39,408.14 L424.04,408.67 L424.70,409.21 L425.35,409.77 L426.01,410.34 L426.66,410.93 L427.32,411.51 L427.97,412.07 L428.63,412.63 L429.28,413.18 L429.94,413.74 L430.60,414.28 L431.25,414.83 L431.91,415.37 L432.56,415.91 L433.22,416.45 L433.87,416.99 L434.53,417.52 L435.18,418.05 L435.84,418.58 L436.49,419.10 L437.15,419.62 L437.80,420.14 L438.46,420.66 L439.12,421.17 L439.77,421.68 L440.43,422.19 L441.08,422.70 L441.74,423.21 L442.39,423.71 L443.05,424.21 L443.70,424.70 L444.36,425.20 L445.01,425.69 L445.67,426.18 L446.32,426.67 L446.98,427.15 L447.64,427.64 L448.29,428.12 L448.95,428.60 L449.60,429.07 L450.26,429.55 L450.91,430.02 L451.57,430.49 L452.22,430.96 L452.88,431.42 L453.53,431.88 L454.19,432.34 L454.84,432.80 L455.50,433.26 L456.16,433.71 L456.81,434.17 L457.47,434.62 L458.12,435.07 L458.78,435.51 L459.43,435.96 L460.09,436.40 L460.74,436.84 L461.40,437.28 L462.05,437.71 L462.71,438.15 L463.36,438.58 L464.02,439.01 L464.68,439.44 L465.33,439.86 L465.99,440.29 L466.64,440.71 L467.30,441.13 L467.95,441.55 L468.61,441.97 L469.26,442.38 L469.92,442.80 L470.57,443.21 L471.23,443.62 L471.88,444.03 L472.54,444.43 L473.20,444.84 L473.85,445.24 L474.51,445.64 L475.16,446.04 L475.82,446.44 L476.47,446.83 L477.13,447.23 L477.78,447.62 L478.44,448.01 L479.09,448.40 L479.75,448.78 L480.41,449.17 L481.06,449.55 L481.72,449.94 L482.37,450.32 L483.03,450.70 L483.68,451.07 L484.34,451.45 L484.99,451.82 L485.65,452.20 L486.30,452.57 L486.96,452.94 L487.61,453.31 L488.27,453.67 L488.93,454.04 L489.58,454.40 L490.24,454.76 L490.89,455.12 L491.55,455.48 L492.20,455.84 L492.86,456.19 L493.51,456.55 L494.17,456.90 L494.82,457.25 L495.48,457.60 L496.13,457.95 L496.79,458.30 L497.45,458.65 L498.10,458.99 L498.76,459.33 L499.41,459.68 L500.07,460.02 L500.72,460.35 L501.38,460.69 L502.03,461.03 L502.69,461.36 L503.34,461.70 L504.00,462.03 L504.65,462.36 L505.31,462.69 L505.97,463.02 L506.62,463.35 L507.28,463.67 L507.93,464.00 L508.59,464.32 L509.24,464.64 L509.90,464.96 L510.55,465.28 L511.21,465.60 L511.86,465.92 L512.52,466.23 L513.17,466.55 L513.83,466.86 L514.49,467.17 L515.14,467.48 L515.80,467.79 L516.45,468.10 L517.11,468.41 L517.76,468.71 L518.42,469.02 L519.07,469.32 L519.73,469.62 L520.38,469.92 L521.04,470.22 L521.69,470.52 L522.35,470.82 L523.01,471.12 L523.66,471.41 L524.32,471.71 L524.97,472.00 L525.63,472.29 L526.28,472.59 L526.94,472.88 L527.59,473.16 L528.25,473.45 L528.90,473.74 L529.56,474.03 L530.21,474.31 L530.87,474.59 L531.53,474.88 L532.18,475.16 L532.84,475.44 L533.49,475.72 L534.15,476.00 L534.80,476.27 L535.46,476.55 L536.11,476.83 L536.77,477.10 L537.42,477.37 L538.08,477.65 L538.73,477.92 L539.39,478.19 L540.05,478.46 L540.70,478.73 L541.36,478.99 L542.01,479.26 L542.67,479.53 L543.32,479.79 L543.98,480.05 L544.63,480.32 L545.29,480.58 L545.94,480.84 L546.60,481.10 L547.25,481.36 L547.91,481.62 L548.57,481.87 L549.22,482.13 L549.88,482.39 L550.53,482.64 L551.19,482.89 L551.84,483.15 L552.50,483.40 L553.15,483.65 L553.81,483.90 L554.46,484.15 L555.12,484.40 L555.77,484.64 L556.43,484.89 L557.09,485.14 L557.74,485.38 L558.40,485.63 L559.05,485.87 L559.71,486.11 L560.36,486.35 L561.02,486.59 L561.67,486.83 L562.33,487.07 L562.98,487.31 L563.64,487.55 L564.29,487.78 L564.95,488.02 L565.61,488.25 L566.26,488.49 L566.92,488.72 L567.57,488.96 L568.23,489.19 L568.88,489.42 L569.54,489.65 L570.19,489.88 L570.85,490.11 L571.50,490.33 L572.16,490.56 L572.81,490.79 L573.47,491.01 L574.13,491.24 L574.78,491.46 L575.44,491.69 L576.09,491.91 L576.75,492.13 L577.40,492.35 L578.06,492.57 L578.71,492.79 L579.37,493.01 L580.02,493.23 L580.68,493.45 L581.33,493.66 L581.99,493.88 L582.65,494.10 L583.30,494.31 L583.96,494.52 L584.61,494.74 L585.27,494.95 L585.92,495.16 L586.58,495.37 L587.23,495.58 L587.89,495.79 L588.54,496.00 L589.20,496.21 L589.85,496.42 L590.51,496.63 L591.17,496.83 L591.82,497.04 L592.48,497.24 L593.13,497.45 L593.79,497.65 L594.44,497.86 L595.10,498.06 L595.75,498.26 L596.41,498.46 L597.06,498.66 L597.72,498.86 L598.37,499.06 L599.03,499.26 L599.69,499.46 L600.34,499.66 L601.00,499.85 L601.65,500.05 L602.31,500.25 L602.96,500.44 L603.62,500.64 L604.27,500.83 L604.93,501.02 L605.58,501.22 L606.24,501.41 L606.89,501.60 L607.55,501.79 L608.21,501.98 L608.86,502.17 L609.52,502.36 L610.17,502.55 L610.83,502.74 L611.48,502.92 L612.14,503.11 L612.79,503.30 L613.45,503.48 L614.10,503.67 L614.76,503.85 L615.42,504.04 L616.07,504.22 L616.73,504.40 L617.38,504.59 L618.04,504.77 L618.69,504.95 L619.35,505.13 L620.00,505.31 L620.66,505.49 L621.31,505.67 L621.97,505.85 L622.62,506.03 L623.28,506.20 L623.94,506.38 L624.59,506.56 L625.25,506.73 L625.90,506.91 L626.56,507.08 L627.21,507.26 L627.87,507.43 L628.52,507.60 L629.18,507.78 L629.83,507.95 L630.49,508.12 L631.14,508.29 L631.80,508.46 L632.46,508.63 L633.11,508.80 L633.77,508.97 L634.42,509.14 L635.08,509.31 L635.73,509.48 L636.39,509.64 L637.04,509.81 L637.70,509.98 L638.35,510.14 L639.01,510.31 L639.66,510.47 L640.32,510.64 L640.98,510.80 L641.63,510.97 L642.29,511.13 L642.94,511.29 L643.60,511.45 L644.25,511.62 L644.91,511.78 L645.56,511.94 L646.22,512.10 L646.87,512.26 L647.53,512.42 L648.18,512.58 L648.84,512.73 L649.50,512.89 L650.15,513.05 L650.81,513.21 L651.46,513.36 L652.12,513.52 L652.77,513.68 L653.43,513.83 L654.08,513.99 L654.74,514.14 L655.39,514.29 L656.05,514.45 L656.70,514.60 L657.36,514.75 L658.02,514.91 L658.67,515.06 L659.33,515.21 L659.98,515.36 L660.64,515.51 L661.29,515.66 L661.95,515.81 L662.60,515.96 L663.26,516.11 L663.91,516.26 L664.57,516.41 L665.22,516.55 L665.88,516.70 L666.54,516.85 L667.19,516.99 L667.85,517.14 L668.50,517.29 L669.16,517.43 L669.81,517.58 L670.47,517.72 L671.12,517.87 L671.78,518.01 L672.43,518.15 L673.09,518.30 L673.74,518.44 L674.40,518.58" fill="none" stroke="#1a7f32" stroke-width="1.8" stroke-linejoin="round"/>
<path d="M392.90,453.60 L393.00,451.47 L393.10,449.32 L393.20,447.14 L393.30,444.94 L393.40,442.73 L393.50,440.49 L393.60,438.23 L393.70,435.96 L393.80,433.67 L393.91,431.36 L394.01,429.03 L394.11,426.69 L394.21,424.34 L394.31,421.97 L394.41,419.59 L394.51,417.20 L394.61,414.79 L394.71,412.22 L394.81,409.47 L394.91,406.65 L395.01,403.90 L395.11,401.34 L395.21,399.10 L395.31,397.31 L395.41,395.74 L395.51,394.24 L395.61,392.85 L395.71,391.62 L395.81,390.60 L395.92,389.82 L396.02,389.34 L396.12,389.00 L396.22,388.70 L396.32,388.44 L396.42,388.20 L396.52,387.99 L396.62,387.80 L396.72,387.63 L396.82,387.48 L396.92,387.35 L397.02,387.22 L397.12,387.09 L397.22,386.97 L397.32,386.85 L397.42,386.73 L397.52,386.61 L397.62,386.50 L397.72,386.38 L397.82,386.27 L397.93,386.17 L398.03,386.07 L398.13,385.98 L398.23,385.89 L398.33,385.82 L398.43,385.75 L398.53,385.70 L398.63,385.65 L398.73,385.62 L398.83,385.60 L398.93,385.60 L399.03,385.60 L399.13,385.60 L399.23,385.61 L399.33,385.62 L399.43,385.62 L399.53,385.63 L399.63,385.65 L399.73,385.66 L399.83,385.67 L399.94,385.69 L400.04,385.70 L400.14,385.72 L400.24,385.74 L400.34,385.76 L400.44,385.78 L400.54,385.80 L400.64,385.82 L400.74,385.84 L400.84,385.86 L400.94,385.89 L401.04,385.91 L401.14,385.94 L401.24,385.96 L401.34,385.99 L401.44,386.01 L401.54,386.04 L401.64,386.07 L401.74,386.11 L401.84,386.15 L401.95,386.20 L402.05,386.25 L402.15,386.30 L402.25,386.35 L402.35,386.41 L402.45,386.47 L402.55,386.53 L402.65,386.60 L402.75,386.67 L402.85,386.74 L402.95,386.81 L403.05,386.88 L403.15,386.95 L403.25,387.03 L403.35,387.11 L403.45,387.18 L403.55,387.26 L403.65,387.34 L403.75,387.42 L403.85,387.50 L403.96,387.57 L404.06,387.65 L404.16,387.73 L404.26,387.81 L404.36,387.88 L404.46,387.96 L404.56,388.03 L404.66,388.10 L404.76,388.17 L404.86,388.24 L404.96,388.31 L405.06,388.38 L405.16,388.45 L405.26,388.51 L405.36,388.58 L405.46,388.65 L405.56,388.72 L405.66,388.79 L405.76,388.86 L405.86,388.93 L405.97,388.99 L406.07,389.06 L406.17,389.13 L406.27,389.20 L406.37,389.27 L406.47,389.34 L406.57,389.41 L406.67,389.47 L406.77,389.54 L406.87,389.61 L406.97,389.68 L407.07,389.75 L407.17,389.82 L407.27,389.89 L407.37,389.96 L407.47,390.03 L407.57,390.10 L407.67,390.17 L407.77,390.24 L407.87,390.31 L407.98,390.38 L408.08,390.45 L408.18,390.52 L408.28,390.59 L408.38,390.66 L408.48,390.73 L408.58,390.80 L408.68,390.88 L408.78,390.95 L408.88,391.02 L408.98,391.09 L409.08,391.16 L409.18,391.24 L409.28,391.31 L409.38,391.38 L409.48,391.46 L409.58,391.53 L409.68,391.60 L409.78,391.68 L409.88,391.75 L409.99,391.83 L410.09,391.90 L410.19,391.98 L410.29,392.05 L410.39,392.13 L410.49,392.21 L410.59,392.28 L410.69,392.36 L410.79,392.44 L410.89,392.51 L410.99,392.59 L411.09,392.67 L411.19,392.75 L411.29,392.83 L411.39,392.91 L411.49,392.99 L411.59,393.07 L411.69,393.15 L411.79,393.23 L411.89,393.31 L412.00,393.39 L412.10,393.47 L412.20,393.56 L412.30,393.64 L412.40,393.72 L412.50,393.81 L412.60,393.89 L412.70,393.98 L412.80,394.06 L412.90,394.15 L413.56,394.73 L414.21,395.37 L414.87,396.03 L415.52,396.71 L416.18,397.39 L416.83,398.06 L417.49,398.70 L418.14,399.34 L418.80,399.97 L419.45,400.60 L420.11,401.23 L420.76,401.86 L421.42,402.48 L422.08,403.09 L422.73,403.71 L423.39,404.32 L424.04,404.93 L424.70,405.53 L425.35,406.13 L426.01,406.73 L426.66,407.32 L427.32,407.91 L427.97,408.50 L428.63,409.09 L429.28,409.67 L429.94,410.25 L430.60,410.82 L431.25,411.40 L431.91,411.97 L432.56,412.53 L433.22,413.10 L433.87,413.66 L434.53,414.22 L435.18,414.77 L435.84,415.32 L436.49,415.87 L437.15,416.42 L437.80,416.96 L438.46,417.50 L439.12,418.04 L439.77,418.58 L440.43,419.11 L441.08,419.64 L441.74,420.17 L442.39,420.69 L443.05,421.21 L443.70,421.73 L444.36,422.25 L445.01,422.76 L445.67,423.28 L446.32,423.79 L446.98,424.29 L447.64,424.80 L448.29,425.30 L448.95,425.80 L449.60,426.29 L450.26,426.79 L450.91,427.28 L451.57,427.77 L452.22,428.26 L452.88,428.74 L453.53,429.22 L454.19,429.70 L454.84,430.18 L455.50,430.66 L456.16,431.13 L456.81,431.60 L457.47,432.07 L458.12,432.54 L458.78,433.00 L459.43,433.46 L460.09,433.92 L460.74,434.38 L461.40,434.84 L462.05,435.29 L462.71,435.74 L463.36,436.19 L464.02,436.64 L464.68,437.08 L465.33,437.53 L465.99,437.97 L466.64,438.40 L467.30,438.84 L467.95,439.28 L468.61,439.71 L469.26,440.14 L469.92,440.57 L470.57,441.00 L471.23,441.42 L471.88,441.84 L472.54,442.26 L473.20,442.68 L473.85,443.10 L474.51,443.52 L475.16,443.93 L475.82,444.34 L476.47,444.75 L477.13,445.16 L477.78,445.56 L478.44,445.97 L479.09,446.37 L479.75,446.77 L480.41,447.17 L481.06,447.57 L481.72,447.96 L482.37,448.36 L483.03,448.75 L483.68,449.14 L484.34,449.53 L484.99,449.91 L485.65,450.30 L486.30,450.68 L486.96,451.07 L487.61,451.45 L488.27,451.82 L488.93,452.20 L489.58,452.58 L490.24,452.95 L490.89,453.32 L491.55,453.69 L492.20,454.06 L492.86,454.43 L493.51,454.79 L494.17,455.16 L494.82,455.52 L495.48,455.88 L496.13,456.24 L496.79,456.60 L497.45,456.96 L498.10,457.31 L498.76,457.66 L499.41,458.02 L500.07,458.37 L500.72,458.72 L501.38,459.06 L502.03,459.41 L502.69,459.76 L503.34,460.10 L504.00,460.44 L504.65,460.78 L505.31,461.12 L505.97,461.46 L506.62,461.80 L507.28,462.13 L507.93,462.46 L508.59,462.80 L509.24,463.13 L509.90,463.46 L510.55,463.79 L511.21,464.11 L511.86,464.44 L512.52,464.76 L513.17,465.09 L513.83,465.41 L514.49,465.73 L515.14,466.05 L515.80,466.36 L516.45,466.68 L517.11,467.00 L517.76,467.31 L518.42,467.62 L519.07,467.94 L519.73,468.25 L520.38,468.56 L521.04,468.86 L521.69,469.17 L522.35,469.48 L523.01,469.78 L523.66,470.08 L524.32,470.39 L524.97,470.69 L525.63,470.99 L526.28,471.28 L526.94,471.58 L527.59,471.88 L528.25,472.17 L528.90,472.47 L529.56,472.76 L530.21,473.05 L530.87,473.34 L531.53,473.63 L532.18,473.92 L532.84,474.21 L533.49,474.49 L534.15,474.78 L534.80,475.06 L535.46,475.35 L536.11,475.63 L536.77,475.91 L537.42,476.19 L538.08,476.47 L538.73,476.75 L539.39,477.02 L540.05,477.30 L540.70,477.57 L541.36,477.85 L542.01,478.12 L542.67,478.39 L543.32,478.66 L543.98,478.93 L544.63,479.20 L545.29,479.47 L545.94,479.73 L546.60,480.00 L547.25,480.26 L547.91,480.53 L548.57,480.79 L549.22,481.05 L549.88,481.31 L550.53,481.57 L551.19,481.83 L551.84,482.09 L552.50,482.35 L553.15,482.60 L553.81,482.86 L554.46,483.11 L555.12,483.37 L555.77,483.62 L556.43,483.87 L557.09,484.12 L557.74,484.37 L558.40,484.62 L559.05,484.87 L559.71,485.12 L560.36,485.36 L561.02,485.61 L561.67,485.85 L562.33,486.10 L562.98,486.34 L563.64,486.58 L564.29,486.82 L564.95,487.06 L565.61,487.30 L566.26,487.54 L566.92,487.78 L567.57,488.02 L568.23,488.25 L568.88,488.49 L569.54,488.72 L570.19,488.96 L570.85,489.19 L571.50,489.42 L572.16,489.65 L572.81,489.88 L573.47,490.11 L574.13,490.34 L574.78,490.57 L575.44,490.80 L576.09,491.02 L576.75,491.25 L577.40,491.48 L578.06,491.70 L578.71,491.92 L579.37,492.15 L580.02,492.37 L580.68,492.59 L581.33,492.81 L581.99,493.03 L582.65,493.25 L583.30,493.47 L583.96,493.69 L584.61,493.90 L585.27,494.12 L585.92,494.34 L586.58,494.55 L587.23,494.76 L587.89,494.98 L588.54,495.19 L589.20,495.40 L589.85,495.61 L590.51,495.82 L591.17,496.03 L591.82,496.24 L592.48,496.45 L593.13,496.66 L593.79,496.87 L594.44,497.07 L595.10,497.28 L595.75,497.48 L596.41,497.69 L597.06,497.89 L597.72,498.10 L598.37,498.30 L599.03,498.50 L599.69,498.70 L600.34,498.90 L601.00,499.10 L601.65,499.30 L602.31,499.50 L602.96,499.70 L603.62,499.90 L604.27,500.09 L604.93,500.29 L605.58,500.48 L606.24,500.68 L606.89,500.87 L607.55,501.07 L608.21,501.26 L608.86,501.45 L609.52,501.65 L610.17,501.84 L610.83,502.03 L611.48,502.22 L612.14,502.41 L612.79,502.60 L613.45,502.78 L614.10,502.97 L614.76,503.16 L615.42,503.35 L616.07,503.53 L616.73,503.72 L617.38,503.90 L618.04,504.09 L618.69,504.27 L619.35,504.45 L620.00,504.64 L620.66,504.82 L621.31,505.00 L621.97,505.18 L622.62,505.36 L623.28,505.54 L623.94,505.72 L624.59,505.90 L625.25,506.08 L625.90,506.25 L626.56,506.43 L627.21,506.61 L627.87,506.78 L628.52,506.96 L629.18,507.13 L629.83,507.31 L630.49,507.48 L631.14,507.66 L631.80,507.83 L632.46,508.00 L633.11,508.17 L633.77,508.34 L634.42,508.52 L635.08,508.69 L635.73,508.86 L636.39,509.02 L637.04,509.19 L637.70,509.36 L638.35,509.53 L639.01,509.70 L639.66,509.86 L640.32,510.03 L640.98,510.20 L641.63,510.36 L642.29,510.53 L642.94,510.69 L643.60,510.85 L644.25,511.02 L644.91,511.18 L645.56,511.34 L646.22,511.51 L646.87,511.67 L647.53,511.83 L648.18,511.99 L648.84,512.15 L649.50,512.31 L650.15,512.47 L650.81,512.63 L651.46,512.79 L652.12,512.94 L652.77,513.10 L653.43,513.26 L654.08,513.41 L654.74,513.57 L655.39,513.73 L656.05,513.88 L656.70,514.04 L657.36,514.19 L658.02,514.34 L658.67,514.50 L659.33,514.65 L659.98,514.80 L660.64,514.96 L661.29,515.11 L661.95,515.26 L662.60,515.41 L663.26,515.56 L663.91,515.71 L664.57,515.86 L665.22,516.01 L665.88,516.16 L666.54,516.31 L667.19,516.45 L667.85,516.60 L668.50,516.75 L669.16,516.90 L669.81,517.04 L670.47,517.19 L671.12,517.33 L671.78,517.48 L672.43,517.62 L673.09,517.77 L673.74,517.91 L674.40,518.05" fill="none" stroke="#e8b450" stroke-width="1.8" stroke-linejoin="round"/>
<path d="M392.90,453.60 L393.00,451.31 L393.10,448.96 L393.20,446.56 L393.30,444.12 L393.40,441.64 L393.50,439.11 L393.60,436.54 L393.70,433.93 L393.80,431.29 L393.91,428.61 L394.01,425.90 L394.11,423.16 L394.21,420.39 L394.31,417.60 L394.41,414.79 L394.51,411.76 L394.61,408.51 L394.71,405.20 L394.81,402.01 L394.91,399.11 L395.01,396.67 L395.11,394.38 L395.21,392.15 L395.31,390.20 L395.41,388.76 L395.51,388.05 L395.61,387.70 L395.71,387.41 L395.81,387.16 L395.92,386.95 L396.02,386.77 L396.12,386.62 L396.22,386.48 L396.32,386.36 L396.42,386.23 L396.52,386.11 L396.62,385.97 L396.72,385.83 L396.82,385.69 L396.92,385.54 L397.02,385.39 L397.12,385.25 L397.22,385.11 L397.32,384.97 L397.42,384.83 L397.52,384.71 L397.62,384.59 L397.72,384.48 L397.82,384.38 L397.93,384.30 L398.03,384.23 L398.13,384.17 L398.23,384.13 L398.33,384.11 L398.43,384.10 L398.53,384.10 L398.63,384.10 L398.73,384.11 L398.83,384.11 L398.93,384.12 L399.03,384.13 L399.13,384.14 L399.23,384.15 L399.33,384.17 L399.43,384.18 L399.53,384.19 L399.63,384.21 L399.73,384.23 L399.83,384.24 L399.94,384.26 L400.04,384.28 L400.14,384.30 L400.24,384.32 L400.34,384.35 L400.44,384.37 L400.54,384.39 L400.64,384.41 L400.74,384.44 L400.84,384.46 L400.94,384.49 L401.04,384.51 L401.14,384.54 L401.24,384.57 L401.34,384.61 L401.44,384.65 L401.54,384.70 L401.64,384.75 L401.74,384.80 L401.84,384.85 L401.95,384.91 L402.05,384.98 L402.15,385.04 L402.25,385.11 L402.35,385.18 L402.45,385.25 L402.55,385.33 L402.65,385.40 L402.75,385.48 L402.85,385.56 L402.95,385.64 L403.05,385.72 L403.15,385.81 L403.25,385.89 L403.35,385.98 L403.45,386.06 L403.55,386.15 L403.65,386.23 L403.75,386.32 L403.85,386.40 L403.96,386.48 L404.06,386.57 L404.16,386.65 L404.26,386.73 L404.36,386.81 L404.46,386.89 L404.56,386.97 L404.66,387.04 L404.76,387.12 L404.86,387.20 L404.96,387.27 L405.06,387.35 L405.16,387.43 L405.26,387.50 L405.36,387.58 L405.46,387.66 L405.56,387.73 L405.66,387.81 L405.76,387.89 L405.86,387.97 L405.97,388.05 L406.07,388.13 L406.17,388.21 L406.27,388.28 L406.37,388.36 L406.47,388.44 L406.57,388.52 L406.67,388.60 L406.77,388.68 L406.87,388.76 L406.97,388.85 L407.07,388.93 L407.17,389.01 L407.27,389.09 L407.37,389.17 L407.47,389.25 L407.57,389.34 L407.67,389.42 L407.77,389.50 L407.87,389.58 L407.98,389.67 L408.08,389.75 L408.18,389.83 L408.28,389.92 L408.38,390.00 L408.48,390.08 L408.58,390.17 L408.68,390.25 L408.78,390.34 L408.88,390.42 L408.98,390.51 L409.08,390.59 L409.18,390.68 L409.28,390.76 L409.38,390.85 L409.48,390.94 L409.58,391.02 L409.68,391.11 L409.78,391.20 L409.88,391.28 L409.99,391.37 L410.09,391.46 L410.19,391.54 L410.29,391.63 L410.39,391.72 L410.49,391.81 L410.59,391.90 L410.69,391.98 L410.79,392.07 L410.89,392.16 L410.99,392.25 L411.09,392.34 L411.19,392.43 L411.29,392.52 L411.39,392.61 L411.49,392.70 L411.59,392.79 L411.69,392.88 L411.79,392.97 L411.89,393.06 L412.00,393.15 L412.10,393.24 L412.20,393.33 L412.30,393.42 L412.40,393.52 L412.50,393.61 L412.60,393.70 L412.70,393.79 L412.80,393.88 L412.90,393.98 L413.56,394.59 L414.21,395.24 L414.87,395.90 L415.52,396.57 L416.18,397.23 L416.83,397.89 L417.49,398.53 L418.14,399.17 L418.80,399.81 L419.45,400.44 L420.11,401.06 L420.76,401.69 L421.42,402.31 L422.08,402.93 L422.73,403.54 L423.39,404.15 L424.04,404.76 L424.70,405.36 L425.35,405.96 L426.01,406.56 L426.66,407.16 L427.32,407.75 L427.97,408.33 L428.63,408.92 L429.28,409.50 L429.94,410.08 L430.60,410.66 L431.25,411.23 L431.91,411.80 L432.56,412.37 L433.22,412.93 L433.87,413.49 L434.53,414.05 L435.18,414.60 L435.84,415.16 L436.49,415.71 L437.15,416.25 L437.80,416.80 L438.46,417.34 L439.12,417.87 L439.77,418.41 L440.43,418.94 L441.08,419.47 L441.74,420.00 L442.39,420.53 L443.05,421.05 L443.70,421.57 L444.36,422.08 L445.01,422.60 L445.67,423.11 L446.32,423.62 L446.98,424.13 L447.64,424.63 L448.29,425.13 L448.95,425.63 L449.60,426.13 L450.26,426.62 L450.91,427.11 L451.57,427.60 L452.22,428.09 L452.88,428.58 L453.53,429.06 L454.19,429.54 L454.84,430.02 L455.50,430.49 L456.16,430.96 L456.81,431.44 L457.47,431.90 L458.12,432.37 L458.78,432.84 L459.43,433.30 L460.09,433.76 L460.74,434.21 L461.40,434.67 L462.05,435.12 L462.71,435.57 L463.36,436.02 L464.02,436.47 L464.68,436.92 L465.33,437.36 L465.99,437.80 L466.64,438.24 L467.30,438.68 L467.95,439.11 L468.61,439.54 L469.26,439.97 L469.92,440.40 L470.57,440.83 L471.23,441.25 L471.88,441.68 L472.54,442.10 L473.20,442.52 L473.85,442.93 L474.51,443.35 L475.16,443.76 L475.82,444.17 L476.47,444.58 L477.13,444.99 L477.78,445.40 L478.44,445.80 L479.09,446.20 L479.75,446.61 L480.41,447.00 L481.06,447.40 L481.72,447.80 L482.37,448.19 L483.03,448.58 L483.68,448.97 L484.34,449.36 L484.99,449.75 L485.65,450.13 L486.30,450.52 L486.96,450.90 L487.61,451.28 L488.27,451.66 L488.93,452.03 L489.58,452.41 L490.24,452.78 L490.89,453.16 L491.55,453.53 L492.20,453.89 L492.86,454.26 L493.51,454.63 L494.17,454.99 L494.82,455.35 L495.48,455.72 L496.13,456.07 L496.79,456.43 L497.45,456.79 L498.10,457.14 L498.76,457.50 L499.41,457.85 L500.07,458.20 L500.72,458.55 L501.38,458.90 L502.03,459.24 L502.69,459.59 L503.34,459.93 L504.00,460.27 L504.65,460.61 L505.31,460.95 L505.97,461.29 L506.62,461.63 L507.28,461.96 L507.93,462.30 L508.59,462.63 L509.24,462.96 L509.90,463.29 L510.55,463.62 L511.21,463.95 L511.86,464.27 L512.52,464.60 L513.17,464.92 L513.83,465.24 L514.49,465.56 L515.14,465.88 L515.80,466.20 L516.45,466.51 L517.11,466.83 L517.76,467.14 L518.42,467.46 L519.07,467.77 L519.73,468.08 L520.38,468.39 L521.04,468.70 L521.69,469.00 L522.35,469.31 L523.01,469.61 L523.66,469.92 L524.32,470.22 L524.97,470.52 L525.63,470.82 L526.28,471.12 L526.94,471.42 L527.59,471.71 L528.25,472.01 L528.90,472.30 L529.56,472.59 L530.21,472.89 L530.87,473.18 L531.53,473.47 L532.18,473.75 L532.84,474.04 L533.49,474.33 L534.15,474.61 L534.80,474.90 L535.46,475.18 L536.11,475.46 L536.77,475.74 L537.42,476.02 L538.08,476.30 L538.73,476.58 L539.39,476.86 L540.05,477.13 L540.70,477.41 L541.36,477.68 L542.01,477.95 L542.67,478.22 L543.32,478.49 L543.98,478.76 L544.63,479.03 L545.29,479.30 L545.94,479.57 L546.60,479.83 L547.25,480.10 L547.91,480.36 L548.57,480.62 L549.22,480.89 L549.88,481.15 L550.53,481.41 L551.19,481.67 L551.84,481.92 L552.50,482.18 L553.15,482.44 L553.81,482.69 L554.46,482.95 L555.12,483.20 L555.77,483.45 L556.43,483.70 L557.09,483.96 L557.74,484.21 L558.40,484.45 L559.05,484.70 L559.71,484.95 L560.36,485.20 L561.02,485.44 L561.67,485.69 L562.33,485.93 L562.98,486.17 L563.64,486.42 L564.29,486.66 L564.95,486.90 L565.61,487.14 L566.26,487.37 L566.92,487.61 L567.57,487.85 L568.23,488.09 L568.88,488.32 L569.54,488.56 L570.19,488.79 L570.85,489.02 L571.50,489.25 L572.16,489.49 L572.81,489.72 L573.47,489.95 L574.13,490.18 L574.78,490.40 L575.44,490.63 L576.09,490.86 L576.75,491.08 L577.40,491.31 L578.06,491.53 L578.71,491.76 L579.37,491.98 L580.02,492.20 L580.68,492.42 L581.33,492.64 L581.99,492.86 L582.65,493.08 L583.30,493.30 L583.96,493.52 L584.61,493.74 L585.27,493.95 L585.92,494.17 L586.58,494.38 L587.23,494.60 L587.89,494.81 L588.54,495.02 L589.20,495.24 L589.85,495.45 L590.51,495.66 L591.17,495.87 L591.82,496.08 L592.48,496.29 L593.13,496.49 L593.79,496.70 L594.44,496.91 L595.10,497.11 L595.75,497.32 L596.41,497.52 L597.06,497.73 L597.72,497.93 L598.37,498.13 L599.03,498.33 L599.69,498.54 L600.34,498.74 L601.00,498.94 L601.65,499.14 L602.31,499.33 L602.96,499.53 L603.62,499.73 L604.27,499.93 L604.93,500.12 L605.58,500.32 L606.24,500.51 L606.89,500.71 L607.55,500.90 L608.21,501.09 L608.86,501.29 L609.52,501.48 L610.17,501.67 L610.83,501.86 L611.48,502.05 L612.14,502.24 L612.79,502.43 L613.45,502.62 L614.10,502.81 L614.76,502.99 L615.42,503.18 L616.07,503.36 L616.73,503.55 L617.38,503.74 L618.04,503.92 L618.69,504.10 L619.35,504.29 L620.00,504.47 L620.66,504.65 L621.31,504.83 L621.97,505.01 L622.62,505.19 L623.28,505.37 L623.94,505.55 L624.59,505.73 L625.25,505.91 L625.90,506.09 L626.56,506.26 L627.21,506.44 L627.87,506.62 L628.52,506.79 L629.18,506.97 L629.83,507.14 L630.49,507.32 L631.14,507.49 L631.80,507.66 L632.46,507.83 L633.11,508.01 L633.77,508.18 L634.42,508.35 L635.08,508.52 L635.73,508.69 L636.39,508.86 L637.04,509.03 L637.70,509.20 L638.35,509.36 L639.01,509.53 L639.66,509.70 L640.32,509.86 L640.98,510.03 L641.63,510.19 L642.29,510.36 L642.94,510.52 L643.60,510.69 L644.25,510.85 L644.91,511.01 L645.56,511.18 L646.22,511.34 L646.87,511.50 L647.53,511.66 L648.18,511.82 L648.84,511.98 L649.50,512.14 L650.15,512.30 L650.81,512.46 L651.46,512.62 L652.12,512.78 L652.77,512.93 L653.43,513.09 L654.08,513.25 L654.74,513.40 L655.39,513.56 L656.05,513.71 L656.70,513.87 L657.36,514.02 L658.02,514.18 L658.67,514.33 L659.33,514.48 L659.98,514.64 L660.64,514.79 L661.29,514.94 L661.95,515.09 L662.60,515.24 L663.26,515.39 L663.91,515.54 L664.57,515.69 L665.22,515.84 L665.88,515.99 L666.54,516.14 L667.19,516.29 L667.85,516.43 L668.50,516.58 L669.16,516.73 L669.81,516.87 L670.47,517.02 L671.12,517.17 L671.78,517.31 L672.43,517.46 L673.09,517.60 L673.74,517.74 L674.40,517.89" fill="none" stroke="#b01e28" stroke-width="1.8" stroke-linejoin="round"/>
<rect x="595.6" y="369.9" width="71.8" height="19" rx="8" fill="#e3e3e3"/>
<text id="t52" x="603.3" y="382.5" font-size="15.6" font-style="italic" stroke="#000" stroke-width="0.22" transform="matrix(1 0 0 1.045 0 -17.212)">k<tspan font-size="11.5" dx="0.6" dy="3.5">forward E</tspan></text>
<line x1="602" y1="397.8" x2="613.7" y2="397.8" stroke="#47287f" stroke-width="2"/>
<text id="t53" x="617.9" y="403.8" font-size="12.8" stroke="#000" stroke-width="0.22" transform="matrix(1 0 0 1.045 0 -18.171)">0.001 s<tspan font-size="9.4" dx="0.3" dy="-4.4">-1</tspan></text>
<line x1="602" y1="413.4" x2="613.7" y2="413.4" stroke="#3d7fd3" stroke-width="2"/>
<text id="t54" x="617.9" y="419.4" font-size="12.8" stroke="#000" stroke-width="0.22" transform="matrix(1 0 0 1.045 0 -18.873)">0.01 s<tspan font-size="9.4" dx="0.3" dy="-4.4">-1</tspan></text>
<line x1="602" y1="429.0" x2="613.7" y2="429.0" stroke="#1a7f32" stroke-width="2"/>
<text id="t55" x="617.9" y="435.0" font-size="12.8" stroke="#000" stroke-width="0.22" transform="matrix(1 0 0 1.045 0 -19.575)">0.1 s<tspan font-size="9.4" dx="0.3" dy="-4.4">-1</tspan></text>
<line x1="602" y1="444.6" x2="613.7" y2="444.6" stroke="#e8b450" stroke-width="2"/>
<text id="t56" x="617.9" y="450.6" font-size="12.8" stroke="#000" stroke-width="0.22" transform="matrix(1 0 0 1.045 0 -20.277)">1.0 s<tspan font-size="9.4" dx="0.3" dy="-4.4">-1</tspan></text>
<line x1="602" y1="460.2" x2="613.7" y2="460.2" stroke="#b01e28" stroke-width="2"/>
<text id="t57" x="617.9" y="466.2" font-size="12.8" stroke="#000" stroke-width="0.22" transform="matrix(1 0 0 1.045 0 -20.979)">10 s<tspan font-size="9.4" dx="0.3" dy="-4.4">-1</tspan></text>
</svg>
</body></html>
